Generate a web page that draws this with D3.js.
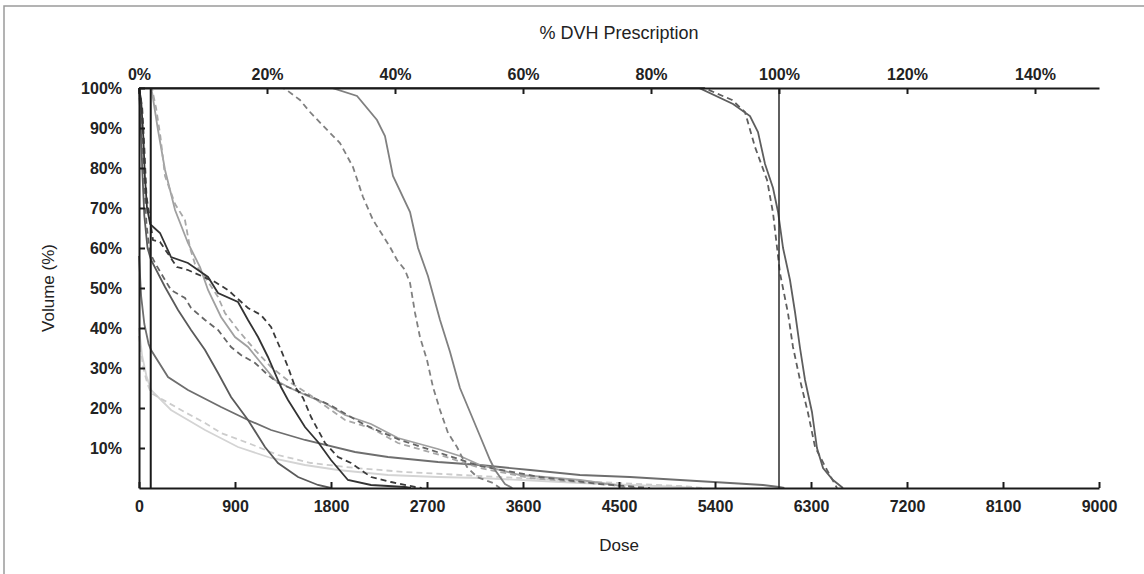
<!DOCTYPE html>
<html><head><meta charset="utf-8">
<script src="https://cdn.jsdelivr.net/npm/d3@7"></script>
<style>html,body{margin:0;padding:0;background:#fff;}svg{display:block;}</style>
</head><body>
<svg id="chart" width="1144" height="574"></svg>
<script>
// ---- data (dose, volume %) ----
const doseTicks = [0, 900, 1800, 2700, 3600, 4500, 5400, 6300, 7200, 8100, 9000];
const pctTicks = [0, 20, 40, 60, 80, 100, 120, 140];
const volTicks = [10, 20, 30, 40, 50, 60, 70, 80, 90, 100];
const prescriptionDose = 6000;
const markerDose = 110;

const ptvSolid = [[0,100],[5250,100],[5569,96],[5728,93],[5803,89],[5869,81],[5944,75],[5991,69],[6038,60],[6103,52],[6150,44],[6197,35],[6244,27],[6309,19],[6356,10],[6413,5],[6506,2],[6600,0]];
const ptvDashed = [[0,100],[5300,100],[5560,97],[5681,94],[5775,85.25],[5888,77],[5944,68.75],[5981,60.25],[6009,53.75],[6084,43.75],[6131,35.25],[6197,27],[6272,18.75],[6338,10.25],[6450,4.5],[6544,0]];
const steepSolid = [[0,100],[1809,100],[2044,98],[2231,92],[2306,88],[2381,78],[2541,69],[2616,60],[2709,53],[2822,42],[2916,34],[3009,25],[3103,19],[3197,13],[3291,7],[3338,4.5],[3431,1],[3500,0]];
const steepDashed = [[0,100],[1350,100],[1397,99.25],[1509,97],[1603,94],[1791,88.75],[1884,86.25],[2006,80.25],[2100,72.75],[2194,67],[2353,60.25],[2419,57],[2494,54.5],[2541,51.25],[2588,43.75],[2634,37.75],[2700,32],[2756,25.25],[2822,19.5],[2897,13.75],[2981,10.25],[3075,5.25],[3169,2.75],[3319,1.25],[3384,0]];
const lightSolid = [[0,100],[110,100],[122,99],[178,89.5],[244,79.5],[338,69.5],[459,61.25],[572,55.25],[647,49.5],[769,42.75],[900,37.75],[1022,35.25],[1144,31.25],[1275,27],[1416,25],[1603,22.75],[1744,21.25],[1931,18.25],[2175,16],[2428,12.5],[2803,9.75],[3009,8],[3197,5.75],[3572,3.25],[4134,2],[4463,0.75],[4556,0]];
const lightDashed = [[0,100],[120,100],[160,95],[200,88],[244,78],[338,71],[431,67],[478,60],[525,56],[619,52.75],[741,47.75],[806,43.75],[928,39.5],[1088,34.5],[1238,30.25],[1425,26.25],[1603,23.25],[1931,17],[2175,15],[2428,11.25],[2822,8.25],[3197,5],[3666,2.5],[4322,1],[4697,0]];
const darkSolid = [[0,100],[20,97],[40,88],[55,78],[75,70],[105,66],[113,65.75],[197,63.75],[300,57.75],[459,56.25],[647,52.75],[741,48.75],[928,46.5],[1022,42],[1116,37.75],[1209,32.75],[1331,25.25],[1397,22],[1556,15.25],[1678,11.5],[1800,7],[1959,2],[2175,0.75],[2494,0.25],[2550,0]];
const darkDashed = [[0,100],[30,95],[50,85],[70,73],[131,62],[197,61.5],[356,55.25],[459,54.5],[713,51.5],[834,49.5],[1022,45],[1144,43.25],[1238,40.25],[1331,34.5],[1397,30.25],[1463,25.25],[1538,22.5],[1613,17.75],[1744,11.25],[1866,7.75],[1988,6.25],[2175,2.75],[2363,1.5],[2588,0.25],[2650,0]];
const midSolid = [[0,100],[15,92],[30,80],[50,68],[80,60],[113,57],[244,50.25],[366,44.5],[488,39.5],[619,34.5],[741,28.75],[863,22.75],[1022,17],[1181,10.25],[1303,6.25],[1491,2.75],[1678,0.75],[1800,0]];
const midDashed = [[0,100],[25,90],[45,78],[70,66],[100,59],[150,56.25],[244,52],[300,49.5],[431,47.5],[488,45],[619,42],[741,39.5],[863,35.25],[956,33.25],[1088,31.25],[1209,28.25],[1303,26.25],[1509,24],[1791,20.75],[2119,15.75],[2447,12],[2822,8.75],[3197,5.5],[3759,2.75],[4322,1],[4791,0]];
const tailSolid = [[0,58],[20,48],[50,41],[90,36],[113,34.5],[272,27.75],[459,24.5],[769,20.25],[1022,17],[1238,14.5],[1556,12],[2025,9],[2334,7.75],[2803,6.5],[3197,5.75],[3666,4.5],[4134,3.25],[4603,2.75],[5072,2],[5541,1.25],[5850,0.75],[6000,0.25],[6050,0]];
const paleSolid = [[0,40],[30,33],[70,28],[113,24.5],[300,19.5],[619,14.5],[928,10.25],[1238,7.5],[1556,5.75],[1866,4.5],[2334,3.25],[2803,2.75],[3197,2.5],[4134,1.25],[5072,0.25],[5200,0]];
const paleDashed = [[0,38],[40,30],[80,26],[113,23.75],[394,19.5],[619,16.25],[769,13.75],[1022,11.25],[1303,8.25],[1613,6.25],[2025,5],[2494,4],[3197,3],[4134,1.75],[5072,0.5],[5300,0]];

const series = [
  {d: paleSolid, c: "#d4d4d4", dash: null},
  {d: paleDashed, c: "#cccccc", dash: "6,4"},
  {d: tailSolid, c: "#6e6e6e", dash: null},
  {d: lightSolid, c: "#a0a0a0", dash: null},
  {d: lightDashed, c: "#a8a8a8", dash: "6,4"},
  {d: midSolid, c: "#5a5a5a", dash: null},
  {d: midDashed, c: "#666666", dash: "6,4"},
  {d: darkSolid, c: "#333333", dash: null},
  {d: darkDashed, c: "#3a3a3a", dash: "6,4"},
  {d: steepSolid, c: "#808080", dash: null},
  {d: steepDashed, c: "#808080", dash: "6,4"},
  {d: ptvSolid, c: "#5e5e5e", dash: null},
  {d: ptvDashed, c: "#5e5e5e", dash: "6,4"}
];

// ---- layout ----
const svg = d3.select("#chart");
const L = 139, R = 1099, T = 88, B = 488;
const x = d3.scaleLinear().domain([0, 9000]).range([L, R]);
const xp = d3.scaleLinear().domain([0, 150]).range([L, R]);
const y = d3.scaleLinear().domain([0, 100]).range([B, T]);

// outer frame
svg.append("rect").attr("x", 4).attr("y", 6).attr("width", 1200).attr("height", 700)
  .attr("fill", "none").attr("stroke", "#9a9a9a").attr("stroke-width", 1.5);

const font = "'Liberation Sans', Arial, sans-serif";

// curves
const line = d3.line().x(d => x(d[0])).y(d => y(d[1]));
const g = svg.append("g");
series.forEach(s => {
  g.append("path").attr("d", line(s.d)).attr("fill", "none")
    .attr("stroke", s.c).attr("stroke-width", 1.8)
    .attr("stroke-dasharray", s.dash);
});

// marker lines
svg.append("line").attr("x1", x(markerDose)).attr("x2", x(markerDose)).attr("y1", T).attr("y2", B)
  .attr("stroke", "#1a1a1a").attr("stroke-width", 2);
svg.append("line").attr("x1", x(prescriptionDose)).attr("x2", x(prescriptionDose)).attr("y1", T).attr("y2", B)
  .attr("stroke", "#2a2a2a").attr("stroke-width", 1.5);

// axes
function style(sel) {
  sel.select(".domain").attr("stroke", "#1a1a1a").attr("stroke-width", 2);
  sel.selectAll(".tick line").attr("stroke", "#1a1a1a").attr("stroke-width", 2);
  sel.selectAll(".tick text").attr("font-family", font).attr("font-weight", "bold")
    .attr("font-size", 16).attr("fill", "#222");
}
const xb = svg.append("g").attr("transform", `translate(0,${B})`)
  .call(d3.axisBottom(x).tickValues(doseTicks).tickSizeInner(-6).tickSizeOuter(0).tickPadding(13).tickFormat(d3.format("d")));
style(xb);
const xt = svg.append("g").attr("transform", `translate(0,${T})`)
  .call(d3.axisTop(xp).tickValues(pctTicks).tickSizeInner(-6).tickSizeOuter(0).tickPadding(8).tickFormat(d => d + "%"));
style(xt);
const yl = svg.append("g").attr("transform", `translate(${L},0)`)
  .call(d3.axisLeft(y).tickValues(volTicks).tickSizeInner(-6).tickSizeOuter(0).tickPadding(17).tickFormat(d => d + "%"));
style(yl);

// titles
svg.append("text").attr("x", (L + R) / 2).attr("y", 39).attr("text-anchor", "middle")
  .attr("font-family", font).attr("font-size", 18).attr("fill", "#222").text("% DVH Prescription");
svg.append("text").attr("x", (L + R) / 2).attr("y", 551).attr("text-anchor", "middle")
  .attr("font-family", font).attr("font-size", 17).attr("fill", "#222").text("Dose");
svg.append("text").attr("transform", `translate(54,${(T + B) / 2}) rotate(-90)`).attr("text-anchor", "middle")
  .attr("font-family", font).attr("font-size", 17).attr("fill", "#222").text("Volume (%)");
</script>
</body></html>
